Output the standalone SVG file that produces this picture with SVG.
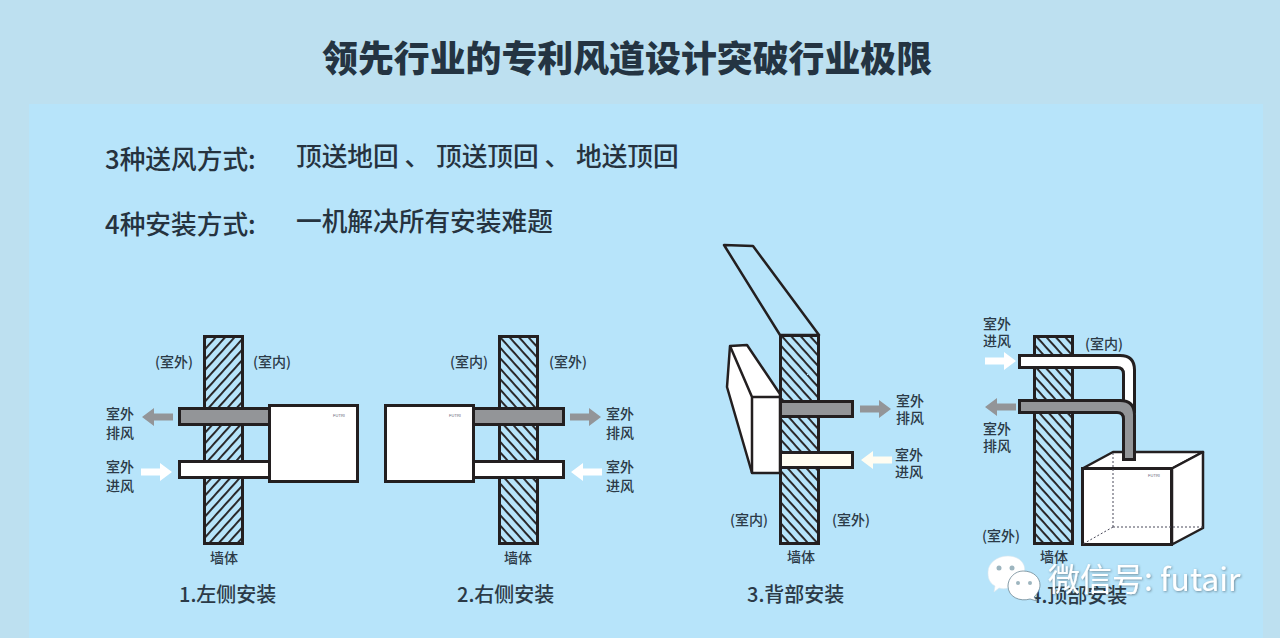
<svg xmlns="http://www.w3.org/2000/svg" width="1280" height="638" viewBox="0 0 1280 638">
<style>
text{font-family:"Noto Sans CJK SC","Noto Sans",sans-serif;fill:#2b3a47}
.t{font-size:35.900px;font-weight:900;fill:#243442}
.h{font-size:25.700px;font-weight:500;fill:#26333f}
.s{font-size:14px;font-weight:500}
.c{font-size:20px;font-weight:500}
.m{text-anchor:middle}
.logo{font-size:4px;fill:#667;font-family:"Liberation Sans",sans-serif;text-anchor:middle}
.wall{stroke:#231f20;stroke-width:3}
.o{stroke:#231f20;stroke-width:3;stroke-linejoin:miter}
.thin{fill:none;stroke:#231f20;stroke-width:2.500;stroke-linejoin:round}
.g{fill:#939598}.w{fill:#fff}
</style>
<defs>
<pattern id="hl" width="7" height="7" patternUnits="userSpaceOnUse" patternTransform="rotate(-48)"><rect width="7" height="7" fill="#b7e4fa"/><rect width="7" height="1.900" fill="#231f20"/></pattern>
<pattern id="hr" width="7" height="7" patternUnits="userSpaceOnUse" patternTransform="rotate(48)"><rect width="7" height="7" fill="#b7e4fa"/><rect width="7" height="1.900" fill="#231f20"/></pattern>
<path id="arR" d="M0-3.500H19V-9L31 0 19 9V3.500H0Z"/>
<path id="arL" d="M31-3.500H12V-9L0 0 12 9V3.500H31Z"/>
<filter id="sh" x="-10%" y="-30%" width="120%" height="160%"><feDropShadow dx="0.800" dy="0.800" stdDeviation="0.800" flood-color="#33444f" flood-opacity="0.600"/></filter>
</defs>
<rect width="1280" height="638" fill="#bde0f0"/>
<rect x="29" y="104" width="1234" height="534" fill="#b7e4fa"/>
<text class="t" x="322" y="72">领先行业的专利风道设计突破行业极限</text>
<text class="h" x="105" y="169">3种送风方式:</text>
<text class="h" x="296" y="166">顶送地回 、 顶送顶回 、 地送顶回</text>
<text class="h" x="105" y="234">4种安装方式:</text>
<text class="h" x="296" y="231">一机解决所有安装难题</text>

<g id="install-1">
<rect class="wall" x="204.500" y="336.500" width="38" height="207" fill="url(#hl)"/>
<rect class="o g" x="179.500" y="408.500" width="91" height="16"/>
<rect class="o w" x="179.500" y="461.500" width="91" height="16"/>
<rect class="o w" x="269.500" y="405.500" width="88" height="76"/>
<text class="logo" x="339" y="417">FUTRI</text>
<use href="#arL" x="142" y="417" fill="#939598"/>
<use href="#arR" x="141" y="472" fill="#fff"/>
<text class="s" x="155" y="367">(室外)</text>
<text class="s" x="253" y="367">(室内)</text>
<text class="s" x="106" y="419">室外</text><text class="s" x="106" y="438">排风</text>
<text class="s" x="106" y="472">室外</text><text class="s" x="106" y="491">进风</text>
<text class="s m" x="224" y="563">墙体</text>
<text class="c" x="179" y="602">1.左侧安装</text>
</g>

<g id="install-2">
<rect class="wall" x="499.500" y="336.500" width="38" height="207" fill="url(#hr)"/>
<rect class="o g" x="473.500" y="408.500" width="90" height="16"/>
<rect class="o w" x="473.500" y="461.500" width="90" height="16"/>
<rect class="o w" x="385.500" y="405.500" width="88" height="76"/>
<text class="logo" x="455" y="417">FUTRI</text>
<use href="#arR" x="570" y="417" fill="#939598"/>
<use href="#arL" x="571" y="472" fill="#fff"/>
<text class="s" x="450" y="367">(室内)</text>
<text class="s" x="549" y="367">(室外)</text>
<text class="s" x="606" y="419">室外</text><text class="s" x="606" y="438">排风</text>
<text class="s" x="606" y="472">室外</text><text class="s" x="606" y="491">进风</text>
<text class="s m" x="518" y="563">墙体</text>
<text class="c" x="457" y="602">2.右侧安装</text>
</g>

<g id="install-3">
<path class="thin" d="M724 245 753 246 819 335H780Z"/>
<rect class="wall" x="780.500" y="335.500" width="38" height="208" fill="url(#hr)"/>
<path class="thin" d="M730 346 747 345 780 394V473H752L727 387Z" style="fill:#fff"/>
<path class="thin" d="M730 346 752 397H780M752 397V473"/>
<rect class="o g" x="780.500" y="401.500" width="72" height="15"/>
<rect class="o" x="780.500" y="452.500" width="72" height="15" fill="#fffdf2"/>
<use href="#arR" x="860" y="409" fill="#939598"/>
<use href="#arL" x="861" y="460" fill="#fffdf2"/>
<text class="s" x="896" y="406">室外</text><text class="s" x="896" y="423">排风</text>
<text class="s" x="895" y="460">室外</text><text class="s" x="895" y="477">进风</text>
<text class="s" x="730" y="525">(室内)</text>
<text class="s" x="832" y="525">(室外)</text>
<text class="s m" x="801" y="562">墙体</text>
<text class="c" x="747" y="602">3.背部安装</text>
</g>

<g id="install-4">
<rect class="wall" x="1034.500" y="336.500" width="38" height="207" fill="url(#hr)"/>
<path class="o w" d="M1019.500 355.500H1120Q1134.500 355.500 1134.500 370V412H1123.500V374Q1123.500 367.500 1117 367.500H1019.500Z"/>
<path class="thin" d="M1082.500 468.500 1113 452H1203L1172 468.500Z" style="fill:#fff"/>
<path class="thin" d="M1203 452V528L1172 544.500V468.500Z" style="fill:#fff"/>
<rect class="o w" x="1082.500" y="468.500" width="89" height="76"/>
<path d="M1113 453V527M1113 527H1203M1113 527 1083 544" fill="none" stroke="#4a4a5a" stroke-width="1" stroke-dasharray="2 2"/>
<text class="logo" x="1154" y="477">FUTRI</text>
<path class="o g" d="M1019.500 400.500H1120Q1134.500 400.500 1134.500 415V459.500H1123.500V419Q1123.500 412.500 1117 412.500H1019.500Z"/>
<use href="#arR" x="985" y="361" fill="#fff"/>
<use href="#arL" x="985" y="407" fill="#939598"/>
<text class="s" x="983" y="329">室外</text><text class="s" x="983" y="346">进风</text>
<text class="s" x="983" y="434">室外</text><text class="s" x="983" y="451">排风</text>
<text class="s" x="1085" y="349">(室内)</text>
<text class="s" x="982" y="541">(室外)</text>
<text class="s m" x="1054" y="562">墙体</text>
<text class="c" x="1030" y="603">4.顶部安装</text>
</g>

<g id="watermark">
<path d="M1008 556C1020 556 1027 565 1024 573C1014 572 1007 579 1008 588C1005 589 1002 589 999 588L994 592 995 586C988 582 988 576 988 572C988 563 997 556 1008 556Z" fill="#fff" stroke="#dce8ee" stroke-width="0.600"/>
<path d="M1023 571C1034 571 1040 578 1040 585C1040 590 1037 594 1034 597L1037 601 1030 599C1020 602 1008 597 1008 586C1008 578 1015 571 1023 571Z" fill="#fff" stroke="#6f8894" stroke-width="0.800"/>
<circle cx="999" cy="568" r="2.500" fill="#9db5bf"/><circle cx="1012" cy="568" r="2.500" fill="#9db5bf"/>
<circle cx="1018" cy="583" r="2" fill="#9db5bf"/><circle cx="1030" cy="583" r="2" fill="#9db5bf"/>
<text x="1048" y="591" filter="url(#sh)" style="fill:#fff;font-size:32px">微信号: futair</text>
</g>
</svg>
